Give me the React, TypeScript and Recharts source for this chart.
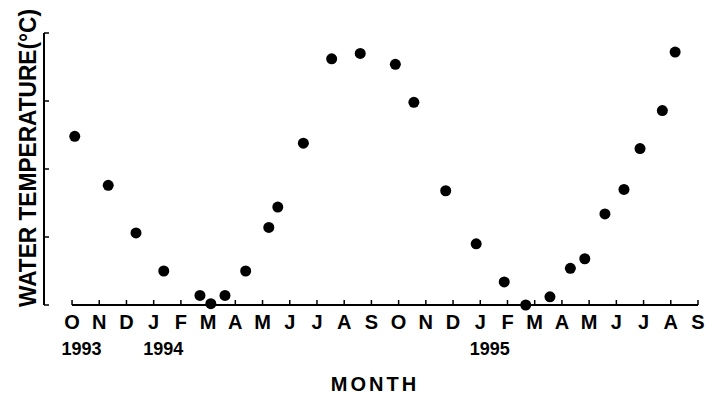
import { ScatterChart, Scatter, XAxis, YAxis, ReferenceLine, Label } from 'recharts'

// months counted from 1 Oct 1993 (0 = O) to Sep 1995 (23 = S)
const monthLabels = ['O', 'N', 'D', 'J', 'F', 'M', 'A', 'M', 'J', 'J', 'A', 'S', 'O', 'N', 'D', 'J', 'F', 'M', 'A', 'M', 'J', 'J', 'A', 'S']
const yearTicks = [0, 3, 15]
const yearLabels = ['1993', '1994', '1995']

const sampleMonths = [0.1, 1.33, 2.35, 3.37, 4.7, 5.1, 5.62, 6.38, 7.23, 7.56, 8.5, 9.54, 10.59, 11.88, 12.56, 13.73, 14.85, 15.88, 16.67, 17.56, 18.31, 18.84, 19.58, 20.28, 20.87, 21.69, 22.16]
const waterTemps = [12.4, 8.8, 5.3, 2.5, 0.7, 0.1, 0.7, 2.5, 5.7, 7.2, 11.9, 18.1, 18.5, 17.7, 14.9, 8.4, 4.5, 1.7, 0.0, 0.6, 2.7, 3.4, 6.7, 8.5, 11.5, 14.3, 18.6]

const tempTicks = [0, 5, 10, 15, 20]

const data = sampleMonths.map((m, i) => ({ month: m, temp: waterTemps[i] }))
const monthTicks = monthLabels.map((_, i) => i)

const font = '"Liberation Sans", Arial, Helvetica, sans-serif'

function MonthTick(props: any) {
  const { x, y, payload } = props
  const i = payload.value
  const yi = yearTicks.indexOf(i)
  return (
    <g>
      <line x1={x} y1={y} x2={x} y2={y - 5} stroke='#000' strokeWidth={1.5} />
      <text x={x} y={y + 24} textAnchor='middle' fontFamily={font} fontWeight='bold' fontSize={20} fill='#000'>
        {monthLabels[i]}
      </text>
      {yi >= 0 && (
        <text x={x + 9.5} y={y + 50} textAnchor='middle' fontFamily={font} fontWeight='bold' fontSize={18} fill='#000'>
          {yearLabels[yi]}
        </text>
      )}
    </g>
  )
}

// tick marks point inward, no numbers
function TempTick(props: any) {
  const { x, y } = props
  return <line x1={x} y1={y} x2={x + 5} y2={y} stroke='#000' strokeWidth={1.5} />
}

export default function App() {
  return (
    <div>
      <style>{'body{margin:0;background:#fff}'}</style>
      <ScatterChart width={707} height={396} margin={{ top: 33, right: 9, bottom: 0, left: 4 }}>
        <XAxis
          type='number'
          dataKey='month'
          domain={[-1.03, 23]}
          ticks={monthTicks}
          interval={0}
          axisLine={false}
          tickLine={false}
          tickSize={0}
          tickMargin={0}
          height={91}
          tick={<MonthTick />}
        >
          <Label
            value='MONTH'
            content={(p: any) => (
              <text
                x={p.viewBox.x + p.viewBox.width / 2 + 4}
                y={p.viewBox.y + 86}
                textAnchor='middle'
                fontFamily={font}
                fontWeight='bold'
                fontSize={20}
                letterSpacing={3}
                fill='#000'
              >
                MONTH
              </text>
            )}
          />
        </XAxis>
        <YAxis
          type='number'
          dataKey='temp'
          domain={[0, 20]}
          ticks={tempTicks}
          width={40}
          tickLine={false}
          tickSize={0}
          tickMargin={0}
          tick={<TempTick />}
          axisLine={{ stroke: '#000', strokeWidth: 2 }}
        >
          <Label
            value='WATER TEMPERATURE(°C)'
            content={() => (
              <text
                x={36}
                y={158}
                transform='rotate(-90 36 158)'
                textAnchor='middle'
                fontFamily={font}
                fontWeight='bold'
                fontSize={24}
                textLength={298}
                lengthAdjust='spacingAndGlyphs'
                fill='#000'
              >
                WATER TEMPERATURE(°C)
              </text>
            )}
          />
        </YAxis>
        <ReferenceLine
          segment={[
            { x: 0, y: 0 },
            { x: 23, y: 0 },
          ]}
          stroke='#000'
          strokeWidth={2}
        />
        <Scatter
          data={data}
          isAnimationActive={false}
          shape={(p: any) => <circle cx={p.cx} cy={p.cy} r={5.5} fill='#000' />}
        />
      </ScatterChart>
    </div>
  )
}
